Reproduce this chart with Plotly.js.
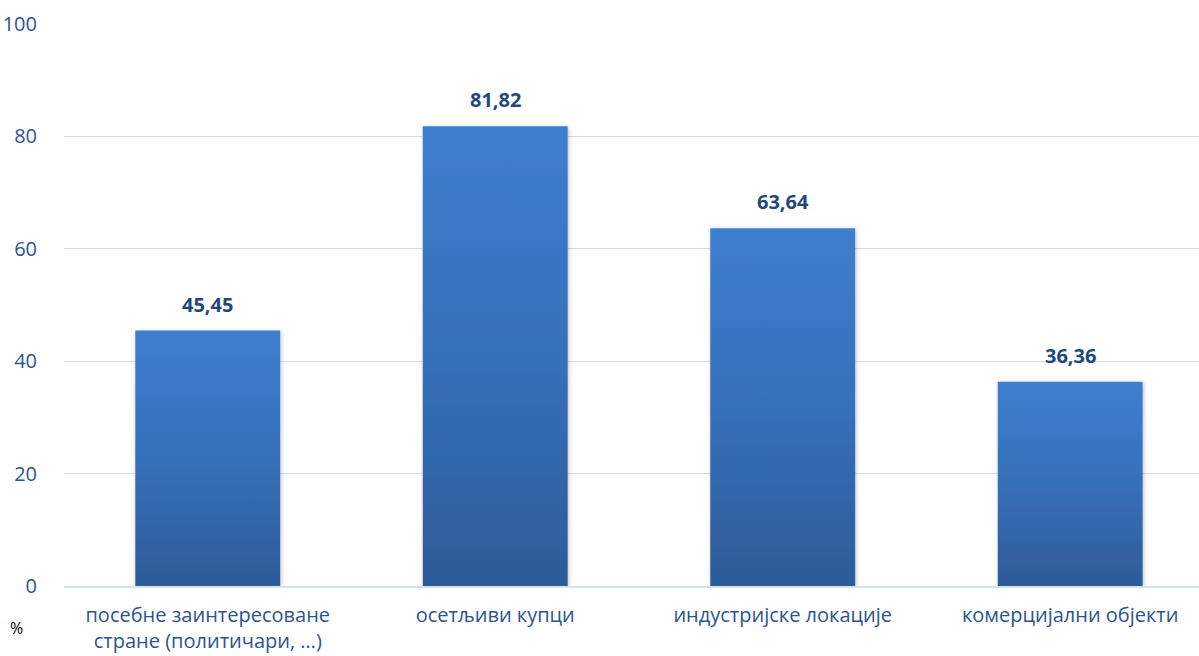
<!DOCTYPE html>
<html>
<head>
<meta charset="utf-8">
<script src="https://cdn.plot.ly/plotly-3.0.1.min.js"></script>
<style>html,body{margin:0;padding:0;background:#fff;}#chart{width:1199px;height:656px;}</style>
</head>
<body>
<div id="chart"></div>
<script>
const categories = ["посебне заинтересоване<br>стране (политичари, …)", "осетљиви купци", "индустријске локације", "комерцијални објекти"];
const values = [45.45, 81.82, 63.64, 36.36];
const valueLabels = ["45,45", "81,82", "63,64", "36,36"];
const yTicks = [0, 20, 40, 60, 80, 100];
const yAxisTitle = "%";

const font = "'Open Sans', 'Noto Sans', sans-serif";

const trace = {
  type: 'bar',
  x: categories,
  y: values,
  marker: {color: '#3572bb', line: {width: 0}},
  hoverinfo: 'none'
};

const annotations = categories.map((c, i) => ({
  x: c, y: values[i], xref: 'x', yref: 'y',
  text: '<b>' + valueLabels[i] + '</b>',
  showarrow: false, yanchor: 'bottom', yshift: 11,
  font: {family: font, size: 20, color: '#1f497d'}
}));
annotations.push({
  x: 0, y: 0, xref: 'paper', yref: 'paper',
  xanchor: 'left', yanchor: 'top', xshift: -56, yshift: -29,
  text: yAxisTitle, showarrow: false,
  font: {family: font, size: 16, color: '#000000'}
});

const layout = {
  width: 1199, height: 656,
  margin: {l: 64, r: 0, t: 24, b: 70},
  paper_bgcolor: '#ffffff', plot_bgcolor: '#ffffff',
  bargap: 0.496,
  showlegend: false,
  separators: ', ',
  xaxis: {
    type: 'category',
    range: [-0.5, 3.448],
    showgrid: false,
    showline: true, linecolor: '#d6e1f0', linewidth: 2,
    ticks: 'outside', ticklen: 10, tickcolor: 'rgba(0,0,0,0)',
    tickfont: {family: font, size: 20, color: '#2c5590'},
    zeroline: false
  },
  yaxis: {
    range: [0, 100],
    tickvals: yTicks,
    ticktext: yTicks.map(String),
    showgrid: true, gridcolor: '#d9d9d9', gridwidth: 1,
    zeroline: false, showline: false,
    ticks: 'outside', ticklen: 22, tickcolor: 'rgba(0,0,0,0)',
    tickfont: {family: font, size: 20, color: '#2c5590'}
  },
  annotations: annotations
};

function applyGradient(gd) {
  const svg = gd.querySelector('svg.main-svg');
  if (!svg) return;
  const ns = 'http://www.w3.org/2000/svg';
  let defs = svg.querySelector('defs');
  if (!defs) { defs = document.createElementNS(ns, 'defs'); svg.insertBefore(defs, svg.firstChild); }
  if (!svg.querySelector('#barGrad')) {
    const g = document.createElementNS(ns, 'linearGradient');
    g.setAttribute('id', 'barGrad');
    g.setAttribute('x1', '0'); g.setAttribute('y1', '0');
    g.setAttribute('x2', '0'); g.setAttribute('y2', '1');
    [['0', '#3d7fcf'], ['0.5', '#3670ba'], ['1', '#2e5b98']].forEach(([o, c]) => {
      const s = document.createElementNS(ns, 'stop');
      s.setAttribute('offset', o); s.setAttribute('stop-color', c);
      g.appendChild(s);
    });
    defs.appendChild(g);
    const f = document.createElementNS(ns, 'filter');
    f.setAttribute('id', 'barShadow');
    f.setAttribute('x', '-10%'); f.setAttribute('y', '-10%');
    f.setAttribute('width', '120%'); f.setAttribute('height', '120%');
    const ds = document.createElementNS(ns, 'feDropShadow');
    ds.setAttribute('dx', '1'); ds.setAttribute('dy', '1');
    ds.setAttribute('stdDeviation', '2'); ds.setAttribute('flood-color', '#000');
    ds.setAttribute('flood-opacity', '0.25');
    f.appendChild(ds);
    defs.appendChild(f);
  }
  gd.querySelectorAll('.barlayer .point path').forEach(p => {
    p.style.fill = 'url(#barGrad)';
    p.setAttribute('filter', 'url(#barShadow)');
  });
}

Plotly.newPlot('chart', [trace], layout, {displayModeBar: false, staticPlot: true}).then(gd => {
  applyGradient(gd);
  gd.on('plotly_afterplot', () => applyGradient(gd));
});
</script>
</body>
</html>
